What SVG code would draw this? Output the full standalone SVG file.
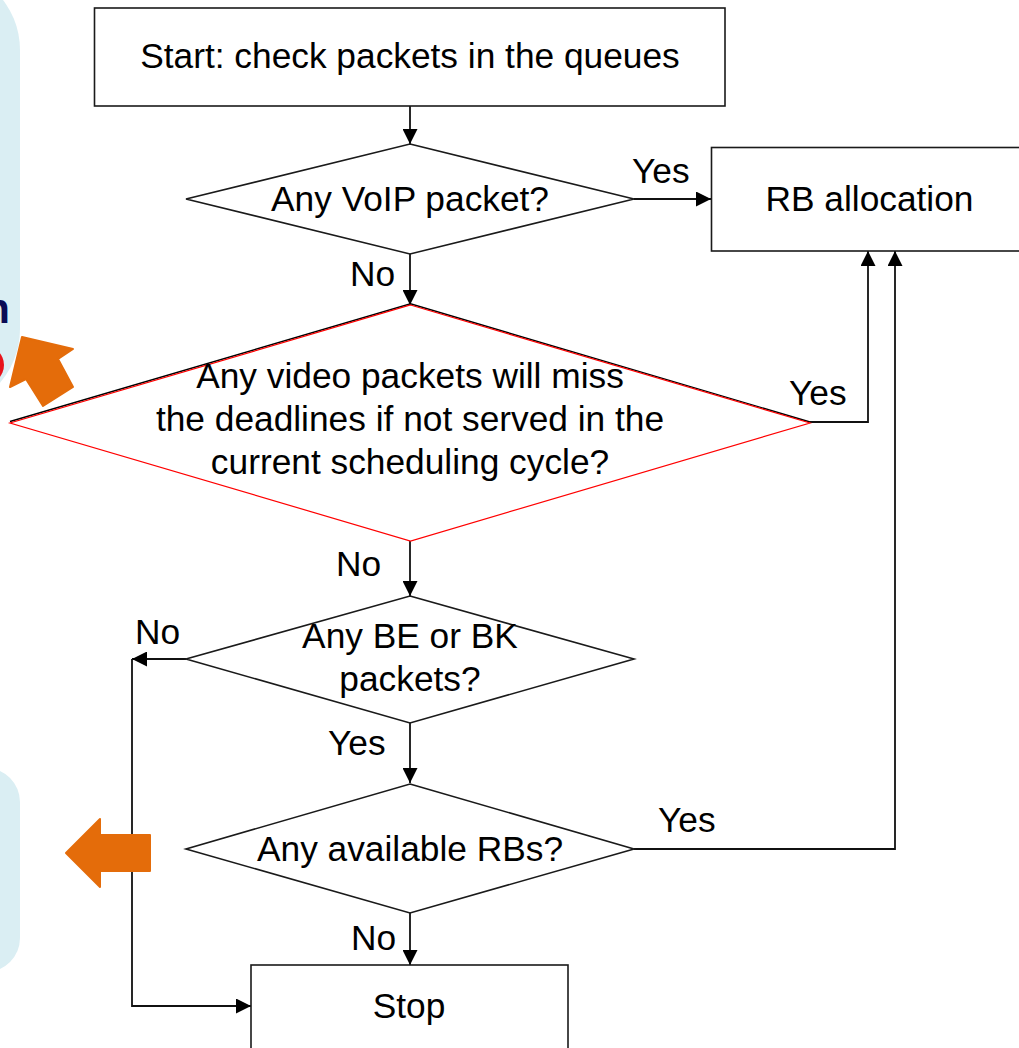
<svg xmlns="http://www.w3.org/2000/svg" width="1019" height="1048" viewBox="0 0 1019 1048">
  <style>
    .box { fill: #ffffff; stroke: #1a1a1a; stroke-width: 1.6; }
    .dec { fill: #ffffff; stroke: #1a1a1a; stroke-width: 1.6; stroke-linejoin: miter; }
    .txt { font-family: "Liberation Sans", Arial, sans-serif; font-size: 35.3px; fill: #000000; }
    .mid { text-anchor: middle; }
    .conn { fill: none; stroke: #111111; stroke-width: 1.8; }
    .panel { fill: #DAEEF3; }
    .callout { fill: #E46C0A; stroke: #E46C0A; stroke-width: 2; stroke-linejoin: round; }
  </style>
  <defs>
    <marker id="arrow" viewBox="0 0 15 15" refX="15" refY="7.5" markerWidth="15" markerHeight="15" markerUnits="userSpaceOnUse" orient="auto">
      <path d="M0,0 L15,7.5 L0,15 z" fill="#000000"/>
    </marker>
  </defs>

  <!-- side panels at the left edge -->
  <g id="side-panels">
    <rect class="panel" x="-180" y="-32" width="200" height="443" rx="82" ry="82"/>
    <text x="10" y="323" text-anchor="end" style="font-family: 'Liberation Sans', Arial, sans-serif; font-size: 42px; font-weight: bold; fill: #0B0B55;">n</text>
    <circle cx="-15" cy="365" r="19" fill="#E8141B"/>
    <rect class="panel" x="-200" y="768" width="220" height="204" rx="34" ry="34"/>
    <polygon class="callout" points="22,337 73,349 58,359 73,387 43,406 26,379 10,387"/>
  </g>

  <!-- connectors -->
  <g id="connectors">
    <path class="conn" d="M410,106 L410,144" marker-end="url(#arrow)"/>
    <path class="conn" d="M634,199 L711,199" marker-end="url(#arrow)"/>
    <path class="conn" d="M410,254 L410,305" marker-end="url(#arrow)"/>
    <path class="conn" d="M810,422 L868,422 L868,251" marker-end="url(#arrow)"/>
    <path class="conn" d="M410,541 L410,596" marker-end="url(#arrow)"/>
    <path class="conn" d="M186,659 L132,659" marker-end="url(#arrow)"/>
    <path class="conn" d="M132,659 L132,1006 L251,1006" marker-end="url(#arrow)"/>
    <path class="conn" d="M410,723 L410,783" marker-end="url(#arrow)"/>
    <path class="conn" d="M634,849 L895,849 L895,251" marker-end="url(#arrow)"/>
    <path class="conn" d="M410,913 L410,965" marker-end="url(#arrow)"/>
  </g>

  <!-- lower callout arrow sits over the loop-back line -->
  <g id="left-callout">
    <polygon class="callout" points="66,853 100,819 100,835 150,835 150,871 100,871 100,887"/>
  </g>

  <g id="start">
    <rect class="box" x="94.5" y="8" width="630.5" height="98"/>
    <text class="txt mid" x="410" y="68">Start: check packets in the queues</text>
  </g>

  <g id="voip">
    <polygon class="dec" points="410,144 634,199 410,254 186,199"/>
    <text class="txt mid" x="410" y="211">Any VoIP packet?</text>
  </g>

  <g id="rb-allocation">
    <rect class="box" x="711.5" y="147.5" width="316" height="103.5"/>
    <text class="txt mid" x="869.5" y="211">RB allocation</text>
  </g>

  <g id="video">
    <polyline points="10,421.5 410.5,303.8 810,422" fill="none" stroke="#000000" stroke-width="1.4"/>
    <polygon points="410.5,305 810,423 410.5,541 10,423" fill="none" stroke="#FF0000" stroke-width="1.2"/>
    <text class="txt mid" x="410" y="388">Any video packets will miss</text>
    <text class="txt mid" x="410" y="431">the deadlines if not served in the</text>
    <text class="txt mid" x="410" y="474">current scheduling cycle?</text>
  </g>

  <g id="be-bk">
    <polygon class="dec" points="410,596 634,659 410,723 186,659"/>
    <text class="txt mid" x="410" y="648">Any BE or BK</text>
    <text class="txt mid" x="410" y="691">packets?</text>
  </g>

  <g id="available-rbs">
    <polygon class="dec" points="410,784 634,849 410,913 186,849"/>
    <text class="txt mid" x="410" y="861">Any available RBs?</text>
  </g>

  <g id="stop">
    <rect class="box" x="251" y="965" width="317" height="100"/>
    <text class="txt mid" x="409" y="1018">Stop</text>
  </g>

  <!-- branch labels -->
  <g id="labels">
    <text class="txt" x="632" y="183">Yes</text>
    <text class="txt" x="350" y="286">No</text>
    <text class="txt" x="789" y="405">Yes</text>
    <text class="txt" x="336" y="576">No</text>
    <text class="txt" x="135" y="644">No</text>
    <text class="txt" x="328" y="755">Yes</text>
    <text class="txt" x="658" y="832">Yes</text>
    <text class="txt" x="351" y="950">No</text>
  </g>
</svg>
